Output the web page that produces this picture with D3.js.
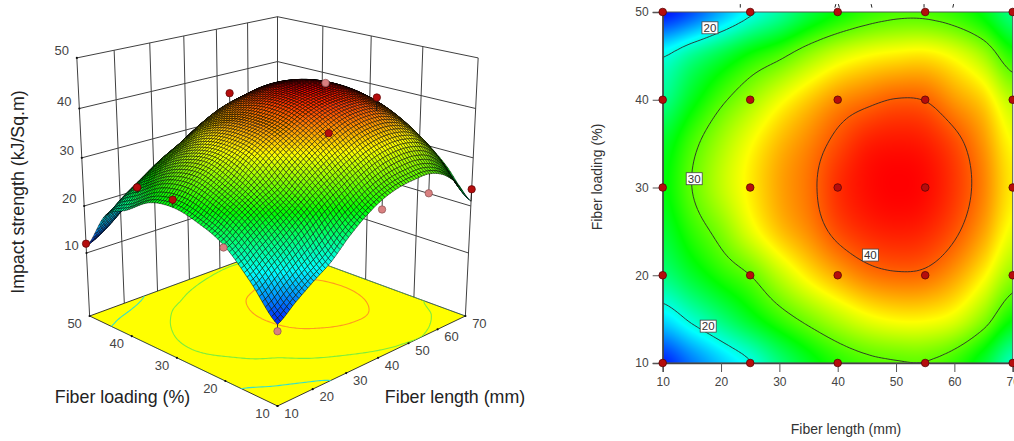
<!DOCTYPE html>
<html>
<head>
<meta charset="utf-8">
<script src="https://cdn.jsdelivr.net/npm/d3@7"></script>
<style>
  html, body { margin: 0; padding: 0; background: #fff; overflow: hidden; }
  text { font-family: "Liberation Sans", Arial, sans-serif; }
</style>
</head>
<body>
<svg id="chart" width="1014" height="441"></svg>
<script>
// Impact strength, one row per fiber loading
const gridLength = [10, 15, 20, 25, 30, 35, 40, 45, 50, 55, 60, 65, 70];
const gridLoading = [10, 15, 20, 25, 30, 35, 40, 45, 50];
const strengthAt10 = [12, 14.8, 17.4, 19.8, 23.2, 26, 28.1, 29.3, 29.8, 29.9, 28.6, 25.6, 21];
const strengthAt15 = [18, 20.6, 23.2, 26, 28.6, 30.8, 32.8, 34.4, 35.2, 35.2, 34.2, 31.3, 27.1];
const strengthAt20 = [23, 25.6, 28, 30, 33, 35.6, 37.6, 39.1, 39.7, 39.5, 38, 35.3, 31.6];
const strengthAt25 = [25.4, 28.4, 31, 34.2, 36.8, 38.6, 40.6, 41.7, 42.1, 41.8, 40.4, 37.9, 34.4];
const strengthAt30 = [26.6, 30, 33, 35.5, 37.8, 39.4, 41.5, 42.6, 43, 42.7, 41.3, 38.9, 35.5];
const strengthAt35 = [25.8, 29.2, 32.2, 34.8, 37.1, 38.8, 40.6, 42, 42.4, 42.1, 40.7, 38.3, 34.9];
const strengthAt40 = [22.6, 26.2, 29.4, 32, 34.5, 36.6, 38.4, 39.4, 40.1, 39.9, 38.2, 36.3, 32.7];
const strengthAt45 = [19.8, 22.5, 25, 27.5, 29.4, 31.8, 33.8, 35, 35.6, 35.8, 34.6, 32.2, 28.1];
const strengthAt50 = [11.5, 13.5, 16.5, 19.5, 22, 24.9, 27, 28.5, 29.3, 29.3, 28.4, 26.4, 22.8];
const strengthRows = [strengthAt10, strengthAt15, strengthAt20, strengthAt25, strengthAt30,
    strengthAt35, strengthAt40, strengthAt45, strengthAt50];

// design points
const pointLength = [10, 25, 40, 55, 70];
const pointLoading = [10, 20, 30, 40, 50];

// points that show on the 3D plot
const shownLength = [10, 25, 40, 10, 25, 55, 40, 55, 70, 10, 40, 55, 10];
const shownLoading = [50, 50, 40, 30, 50, 20, 20, 30, 10, 20, 10, 10, 10];
const shownStrength = [12, 20.6, 40.5, 28.1, 20.6, 42.2, 37.9, 42.6, 23.5, 22.5, 26.2, 26, 10.7];
const shownAbove = [1, 1, 1, 1, 1, 1, 1, 0, 1, 0, 0, 0, 0];

// small cropped marks above the contour plot
const strayLength = [23.3, 39.6, 40.2, 45.8, 54.8, 59.8];
const strayLean = [0, 0.5, -0.5, -0.4, 0, 0.4];

const contourLevels = [20, 30, 40];
const contourFloorColors = ["#35e0c8", "#7fee3a", "#ff9a1f"];
const labelValue = [20, 20, 30, 40];
const labelLength = [18.1, 17.8, 15.4, 45.6];
const labelLoading = [48.2, 14.2, 31, 22.3];

const lengthTicks = [10, 20, 30, 40, 50, 60, 70];
const loadingTicks = [10, 20, 30, 40, 50];
const strengthTicks = [10, 20, 30, 40, 50];

const rainbow = d3.scaleLinear()
    .domain([11, 19, 27, 35, 43])
    .range(["#0000ff", "#00ffff", "#00ff00", "#ffff00", "#ff0000"])
    .clamp(true);

// smooth lookup between the table values, only used for drawing
function catmull(p0, p1, p2, p3, t) {
    return 0.5 * (2 * p1 + (p2 - p0) * t + (2 * p0 - 5 * p1 + 4 * p2 - p3) * t * t + (3 * p1 - p0 - 3 * p2 + p3) * t * t * t);
}
function surfaceAt(len, load) {
    var fx = Math.min((len - 10) / 5, 11.9999), fy = Math.min((load - 10) / 5, 7.9999);
    var ix = Math.floor(fx), iy = Math.floor(fy);
    var col = [];
    for (var r = -1; r <= 2; r++) {
        var row = strengthRows[Math.max(0, Math.min(8, iy + r))];
        var v = [-1, 0, 1, 2].map((c) => row[Math.max(0, Math.min(12, ix + c))]);
        col.push(catmull(v[0], v[1], v[2], v[3], fx - ix));
    }
    return catmull(col[0], col[1], col[2], col[3], fy - iy);
}

const svg = d3.select("#chart");

// fine sample for the contours
const step = 0.5;
const nx = 121, ny = 81;
const sampled = [];
for (var j = 0; j < ny; j++) {
    for (var i = 0; i < nx; i++) sampled.push(surfaceAt(10 + i * step, 10 + j * step));
}
const contourRings = d3.contours().size([nx, ny]).thresholds(contourLevels)(sampled);
function cellToData(cx, cy) {
    return [10 + (cx - 0.5) * step, 10 + (cy - 0.5) * step];
}

// ============================================================
// contour plot on the right
const x2 = d3.scaleLinear().domain([10, 70]).range([662.7, 1012.7]);
const y2 = d3.scaleLinear().domain([10, 50]).range([363, 12]);

const canvas = document.createElement("canvas");
const cw = 350, ch = 351;
canvas.width = cw;
canvas.height = ch;
const ctx = canvas.getContext("2d");
const img = ctx.createImageData(cw, ch);
for (var py = 0; py < ch; py++) {
    for (var px = 0; px < cw; px++) {
        var c = d3.rgb(rainbow(surfaceAt(x2.invert(x2.range()[0] + px + 0.5), y2.invert(y2.range()[1] + py + 0.5))));
        var k = (py * cw + px) * 4;
        img.data[k] = c.r; img.data[k + 1] = c.g; img.data[k + 2] = c.b; img.data[k + 3] = 255;
    }
}
ctx.putImageData(img, 0, 0);

svg.append("image")
    .attr("x", x2.range()[0]).attr("y", y2.range()[1])
    .attr("width", cw).attr("height", ch)
    .attr("href", canvas.toDataURL());

svg.append("clipPath").attr("id", "clip2d").append("rect")
    .attr("x", x2.range()[0]).attr("y", y2.range()[1])
    .attr("width", cw).attr("height", ch);

const path2d = d3.geoPath(d3.geoTransform({
    point: function (cx, cy) {
        var d = cellToData(cx, cy);
        this.stream.point(x2(d[0]), y2(d[1]));
    }
}));
svg.append("g").attr("clip-path", "url(#clip2d)")
    .selectAll("path").data(contourRings).enter().append("path")
    .attr("d", path2d)
    .attr("fill", "none")
    .attr("stroke", "#2a2a2a")
    .attr("stroke-width", 0.9);

svg.append("rect")
    .attr("x", x2.range()[0]).attr("y", y2.range()[1])
    .attr("width", cw).attr("height", ch)
    .attr("fill", "none").attr("stroke", "#555").attr("stroke-width", 1);

const xAxis2 = svg.append("g").attr("transform", "translate(0,363)")
    .call(d3.axisBottom(x2).tickValues(lengthTicks).tickSize(9).tickPadding(5).tickFormat(d3.format("d")));
const yAxis2 = svg.append("g").attr("transform", "translate(662.7,0)")
    .call(d3.axisLeft(y2).tickValues(loadingTicks).tickSize(10).tickPadding(4).tickFormat(d3.format("d")));
[xAxis2, yAxis2].forEach((g) => {
    g.selectAll("text").attr("font-size", 12).attr("font-family", "Liberation Sans").attr("fill", "#444");
    g.selectAll("line").attr("stroke", "#555");
    g.select(".domain").attr("stroke", "#444").attr("stroke-width", 1.4);
});

// design points
const pointGrid = d3.cross(pointLength, pointLoading);
svg.append("g").selectAll("circle").data(pointGrid).enter().append("circle")
    .attr("cx", (d) => x2(d[0]))
    .attr("cy", (d) => y2(d[1]))
    .attr("r", 3.8)
    .attr("fill", "#b50d0d")
    .attr("stroke", "#5a0505")
    .attr("stroke-width", 0.8);

svg.append("g").selectAll("path").data(strayLength).enter().append("path")
    .attr("d", (d, i) => strayMark(d, strayLean[i]))
    .attr("stroke", "#222").attr("stroke-width", 1).attr("fill", "none");
function strayMark(len, lean) {
    return d3.line()([[x2(len) - lean, y2(50.5)], [x2(len) + lean, y2(50.9)]]);
}

// contour labels
const labels2 = svg.append("g").selectAll("g").data(labelValue).enter().append("g")
    .attr("transform", (d, i) => "translate(" + x2(labelLength[i]) + "," + y2(labelLoading[i]) + ")");
labels2.append("rect")
    .attr("x", -8).attr("y", -6).attr("width", 16).attr("height", 12)
    .attr("fill", "#fff").attr("stroke", "#444").attr("stroke-width", 0.8);
labels2.append("text")
    .attr("text-anchor", "middle").attr("y", 4.2)
    .attr("font-size", 11.5).attr("fill", "#333")
    .text((d) => d);

svg.append("text")
    .attr("x", 846).attr("y", 434)
    .attr("text-anchor", "middle").attr("font-size", 14).attr("fill", "#333")
    .text("Fiber length (mm)");
svg.append("text")
    .attr("transform", "translate(602,177) rotate(-90)")
    .attr("text-anchor", "middle").attr("font-size", 14).attr("fill", "#333")
    .text("Fiber loading (%)");

// ============================================================
// surface plot on the left, simple perspective camera
const camA = d3.scaleLinear().domain([10, 70]).range([-1, 1]);
const camB = d3.scaleLinear().domain([10, 50]).range([-1, 1]);
const camH = d3.scaleLinear().domain([10, 50]).range([0.513, 2.0]);
const camera = { cx: 277.5, cy: 316, focal: 1294, dist: 9.74, sinE: 0.4157, cosE: 0.9095, rise: 0.31 };

function project(len, load, z) {
    var a = camA(len), b = camB(load), h = z === null ? 0 : camH(z);
    var s = (a - b) / Math.SQRT2, t = (a + b) / Math.SQRT2;
    var yc = h * camera.cosE + t * camera.sinE;
    var zc = camera.dist + t * camera.cosE - h * camera.rise;
    return [camera.cx + camera.focal * s / zc, camera.cy - camera.focal * yc / zc];
}
const lineOf = d3.line();

// back walls
const wall = svg.append("g").attr("fill", "none").attr("stroke", "#404040").attr("stroke-width", 1);
strengthTicks.forEach((z) => {
    wall.append("path").attr("d", lineOf([project(10, 50, z), project(70, 50, z), project(70, 10, z)]));
});
lengthTicks.forEach((len) => {
    wall.append("path").attr("d", lineOf([project(len, 50, null), project(len, 50, 50)]));
});
loadingTicks.forEach((load) => {
    wall.append("path").attr("d", lineOf([project(70, load, null), project(70, load, 50)]));
});

// floor with projected contours
const floorCorners = [[10, 10], [70, 10], [70, 50], [10, 50]].map((d) => project(d[0], d[1], null));
svg.append("path")
    .attr("d", lineOf(floorCorners) + "Z")
    .attr("fill", "#ffff00").attr("stroke", "#222").attr("stroke-width", 0.9);
svg.append("clipPath").attr("id", "clipFloor").append("path").attr("d", lineOf(floorCorners) + "Z");
const pathFloor = d3.geoPath(d3.geoTransform({
    point: function (cx, cy) {
        var d = cellToData(cx, cy);
        var p = project(d[0], d[1], null);
        this.stream.point(p[0], p[1]);
    }
}));
svg.append("g").attr("clip-path", "url(#clipFloor)")
    .selectAll("path").data(contourRings).enter().append("path")
    .attr("d", pathFloor)
    .attr("fill", "none")
    .attr("stroke", (d, i) => contourFloorColors[i])
    .attr("stroke-width", 1.1);

// stems under the surface first
const shown = shownLength.map((d, i) => ({ len: d, load: shownLoading[i], z: shownStrength[i], above: shownAbove[i] === 1 }));
function stem(g, data) {
    g.selectAll("path").data(data).enter().append("path")
        .attr("d", (d) => lineOf([project(d.len, d.load, d.z), project(d.len, d.load, surfaceAt(d.len, d.load))]))
        .attr("stroke", "#111").attr("stroke-width", 0.8).attr("fill", "none");
}
stem(svg.append("g"), shown.filter((d) => !d.above));

// surface mesh, far cells first
const meshCells = 72;
const meshLen = d3.range(meshCells + 1).map((i) => 10 + i * 60 / meshCells);
const meshLoad = d3.range(meshCells + 1).map((i) => 10 + i * 40 / meshCells);
const cells = [];
for (var li = meshCells - 1; li >= 0; li--) {
    for (var lj = meshCells - 1; lj >= 0; lj--) cells.push([li, lj]);
}
svg.append("g").selectAll("path").data(cells).enter().append("path")
    .attr("d", (d) => {
        var l0 = meshLen[d[0]], l1 = meshLen[d[0] + 1], b0 = meshLoad[d[1]], b1 = meshLoad[d[1] + 1];
        return lineOf([[l0, b0], [l1, b0], [l1, b1], [l0, b1]].map((q) => project(q[0], q[1], surfaceAt(q[0], q[1])))) + "Z";
    })
    .attr("fill", (d) => rainbow(surfaceAt((meshLen[d[0]] + meshLen[d[0] + 1]) / 2, (meshLoad[d[1]] + meshLoad[d[1] + 1]) / 2)))
    .attr("stroke", "#000")
    .attr("stroke-opacity", 0.9)
    .attr("stroke-width", 0.55);

stem(svg.append("g"), shown.filter((d) => d.above));

svg.append("g").selectAll("circle").data(shown).enter().append("circle")
    .attr("cx", (d) => project(d.len, d.load, d.z)[0])
    .attr("cy", (d) => project(d.len, d.load, d.z)[1])
    .attr("r", 3.7)
    .attr("fill", (d) => d.above ? "#b50d0d" : "#d98080")
    .attr("stroke", (d) => d.above ? "#5a0505" : "#8a5050")
    .attr("stroke-width", 0.7);

// tick dots and labels of the 3D axes
function tickLabel(p, dx, dy, value, size) {
    svg.append("circle").attr("cx", p[0]).attr("cy", p[1]).attr("r", 1.1).attr("fill", "#111");
    svg.append("text").attr("x", p[0] + dx).attr("y", p[1] + dy)
        .attr("text-anchor", "middle").attr("font-size", size).attr("fill", "#444")
        .text(value);
}
strengthTicks.forEach((z) => tickLabel(project(10, 50, z), -15, -2.5, z, 13));
loadingTicks.forEach((load) => tickLabel(project(10, load, null), -15, 12, load, 13));
lengthTicks.forEach((len) => tickLabel(project(len, 10, null), 14, 12, len, 13));

svg.append("text")
    .attr("transform", "translate(24,192) rotate(-90)")
    .attr("text-anchor", "middle").attr("font-size", 17.8).attr("fill", "#222")
    .text("Impact strength (kJ/Sq.m)");
svg.append("text")
    .attr("x", 122.5).attr("y", 403)
    .attr("text-anchor", "middle").attr("font-size", 17.8).attr("fill", "#222")
    .text("Fiber loading (%)");
svg.append("text")
    .attr("x", 455).attr("y", 403)
    .attr("text-anchor", "middle").attr("font-size", 17.8).attr("fill", "#222")
    .text("Fiber length (mm)");
</script>
</body>
</html>
